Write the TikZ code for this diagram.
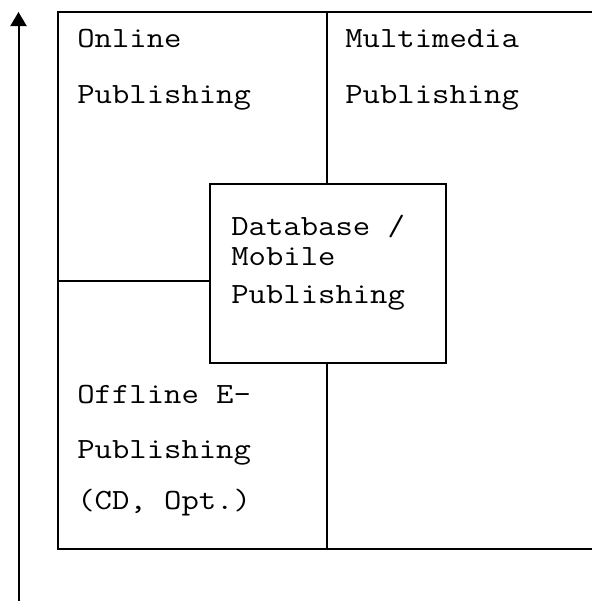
\documentclass[tikz,border=0pt]{standalone}
\usepackage{fontspec}
\setmonofont{Latin Modern Mono}[FakeStretch=1.15]
\usetikzlibrary{arrows.meta,positioning}

\tikzset{
	cell/.style={anchor=base west, inner sep=0pt, font=\ttfamily\fontsize{22}{26}\selectfont},
	divider/.style={line width=1.3pt}
}

\begin{document}
\begin{tikzpicture}[x=0.75pt, y=-0.75pt]
\useasboundingbox (0,0) rectangle (592,601);
\clip (0,0) rectangle (592,601);
% Axis
\draw [line width=1.5pt, -{Triangle[length=10.5pt, width=12pt]}]
	(18.5,620) coordinate (axisfoot) -- (18.5,12) coordinate (axistop);
% Frame, runs past the right edge
\coordinate (frameNW) at (58,12);
\coordinate (frameSE) at (604,549);
\draw [divider] (frameNW) rectangle (frameSE);
% Centre box
\node [draw, divider, fill=white, minimum width=177pt, minimum height=134.25pt]
	(dbox) at (328,273.5) {};
% Dividers
\coordinate (midtop) at (327,12);
\coordinate (midbottom) at (327,549);
\coordinate (leftcut) at (58,281);
\draw [divider] (midtop) -- (midtop |- dbox.north);
\draw [divider] (midbottom) -- (midbottom |- dbox.south);
\draw [divider] (leftcut) -- (leftcut -| dbox.west);
% Online
\node [cell] (online1) at (77,47) {Online};
\node [cell] (online2) at (77,103) {Publishing};
% Multimedia
\node [cell] (multi1) at (345,47) {Multimedia};
\node [cell] (multi2) at (345,103) {Publishing};
% Database / Mobile
\node [cell] (db1) at (231,235) {Database /};
\node [cell] (db2) at (231,265) {Mobile};
\node [cell] (db3) at (231,303) {Publishing};
% Offline
\node [cell] (off1) at (77,403) {Offline E-};
\node [cell] (off2) at (77,458) {Publishing};
\node [cell] (off3) at (77,509) {(CD, Opt.)};

\end{tikzpicture}
\end{document}
